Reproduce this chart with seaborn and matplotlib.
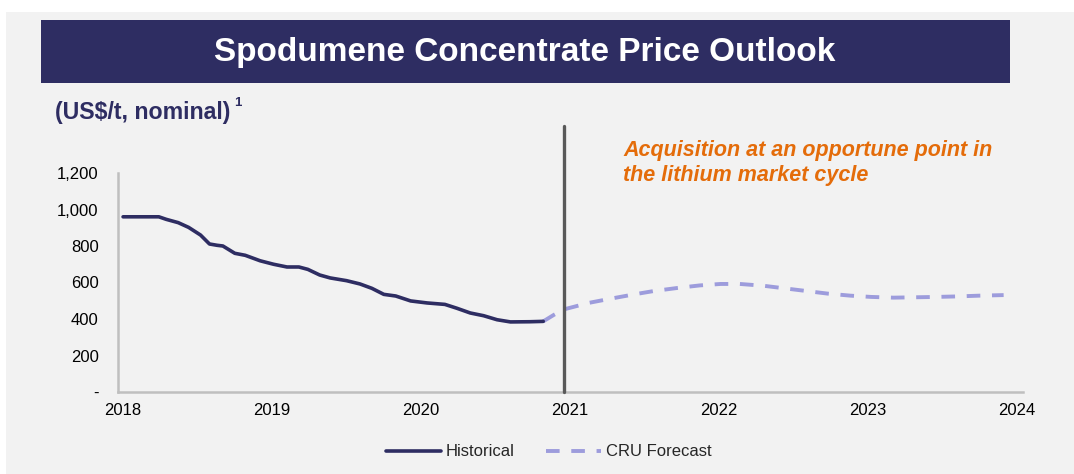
# Spodumene concentrate price outlook

import matplotlib
matplotlib.use("Agg")
import matplotlib.pyplot as plt
import seaborn as sns
import pandas as pd
from matplotlib.patches import Rectangle
from matplotlib.lines import Line2D

sns.set_theme(style="white")
plt.rcParams["font.family"] = ["Liberation Sans", "DejaVu Sans"]

# --- data (decimal years, US$/t) ---
hist_t = [2018.00, 2018.24, 2018.29, 2018.37, 2018.44, 2018.52, 2018.58, 2018.63,
          2018.67, 2018.75, 2018.82, 2018.92, 2019.01, 2019.10, 2019.18, 2019.24,
          2019.32, 2019.39, 2019.50, 2019.59, 2019.67, 2019.75, 2019.83, 2019.93,
          2020.04, 2020.16, 2020.24, 2020.33, 2020.42, 2020.51, 2020.60, 2020.73,
          2020.82]
hist_v = [960, 960, 946, 928, 902, 860, 811, 804,
          800, 760, 749, 719, 700, 685, 685, 672,
          641, 625, 610, 592, 568, 535, 526, 499,
          488, 480, 459, 433, 418, 396, 384, 385,
          387]

fc_t = [2020.82, 2020.89, 2020.96, 2021.13, 2021.27, 2021.43, 2021.56, 2021.72,
        2021.87, 2022.01, 2022.14, 2022.30, 2022.48, 2022.59, 2022.73, 2022.88,
        2023.02, 2023.17, 2023.32, 2023.46, 2023.61, 2023.75, 2023.91]
fc_v = [387, 422, 453, 489, 511, 535, 553, 570,
        584, 592, 592, 582, 564, 553, 539, 528,
        521, 517, 519, 521, 524, 528, 531]

years = [2018, 2019, 2020, 2021, 2022, 2023, 2024]
y_ticks = [0, 200, 400, 600, 800, 1000, 1200]
y_labels = ["-", "200", "400", "600", "800", "1,000", "1,200"]
acquisition_t = 2020.96

navy = "#2e2d62"
lavender = "#9d9cdc"
orange = "#e46c0a"
panel = "#f2f2f2"

hist = pd.DataFrame({"t": hist_t, "price": hist_v})
fc = pd.DataFrame({"t": fc_t, "price": fc_v})

fig = plt.figure(figsize=(10.74, 4.74), dpi=100)
fig.patch.set_facecolor("white")
fig.patches.append(Rectangle((6 / 1074, 0), 1, 1 - 12 / 474, transform=fig.transFigure,
                             facecolor=panel, edgecolor="none", zorder=-10))
# title banner
fig.patches.append(Rectangle((41 / 1074, 1 - 83 / 474), 969 / 1074, 63 / 474,
                             transform=fig.transFigure, facecolor=navy,
                             edgecolor="none", zorder=-5))
fig.text(525 / 1074, 1 - 52 / 474, "Spodumene Concentrate Price Outlook",
         color="white", fontsize=24, fontweight="bold", ha="center", va="center")
fig.text(55 / 1074, 1 - 112 / 474, "(US$/t, nominal)", color=navy,
         fontsize=16.7, fontweight="bold", ha="left", va="center")
fig.text(234 / 1074, 1 - 103 / 474, "1", color=navy,
         fontsize=9.5, fontweight="bold", ha="left", va="center")

ax = fig.add_axes([118 / 1074, 1 - 392 / 474, 905 / 1074, 219 / 474])
ax.set_facecolor(panel)

sns.lineplot(data=fc, x="t", y="price", ax=ax, color=lavender, linewidth=2.8,
             linestyle=(0, (3.5, 3)), sort=False, zorder=3)
sns.lineplot(data=hist, x="t", y="price", ax=ax, color=navy, linewidth=2.6,
             sort=False, zorder=4)

ax.plot([acquisition_t, acquisition_t], [0, 1460], color="#595959", linewidth=2.4,
        clip_on=False, zorder=5)

ax.set_xlim(2017.966, 2024.04)
ax.set_ylim(0, 1200)
ax.set_xticks(years)
ax.set_xticklabels([str(y) for y in years], fontsize=12, color="black")
ax.set_yticks(y_ticks)
ax.set_yticklabels(y_labels, fontsize=12, color="black")
ax.tick_params(axis="x", length=0, pad=8)
ax.tick_params(axis="y", length=0, pad=14)
ax.set_xlabel("")
ax.set_ylabel("")
for s in ["top", "right"]:
    ax.spines[s].set_visible(False)
for s in ["left", "bottom"]:
    ax.spines[s].set_color("#bfbfbf")
    ax.spines[s].set_linewidth(1.8)

fig.text(623 / 1074, 1 - 163 / 474, "Acquisition at an opportune point in\nthe lithium market cycle",
         color=orange, fontsize=15.5, fontweight="bold", fontstyle="italic",
         ha="left", va="center", linespacing=1.25)

handles = [Line2D([], [], color=navy, linewidth=2.6),
           Line2D([], [], color=lavender, linewidth=2.8, linestyle=(0, (3.5, 3)))]
fig.legend(handles, ["Historical", "CRU Forecast"], loc="center",
           bbox_to_anchor=(549 / 1074, 1 - 452 / 474), ncol=2, frameon=False,
           fontsize=12, handlelength=3.3, handletextpad=0.3, columnspacing=1.9)

fig.savefig("out.png", dpi=100, facecolor=fig.get_facecolor())
